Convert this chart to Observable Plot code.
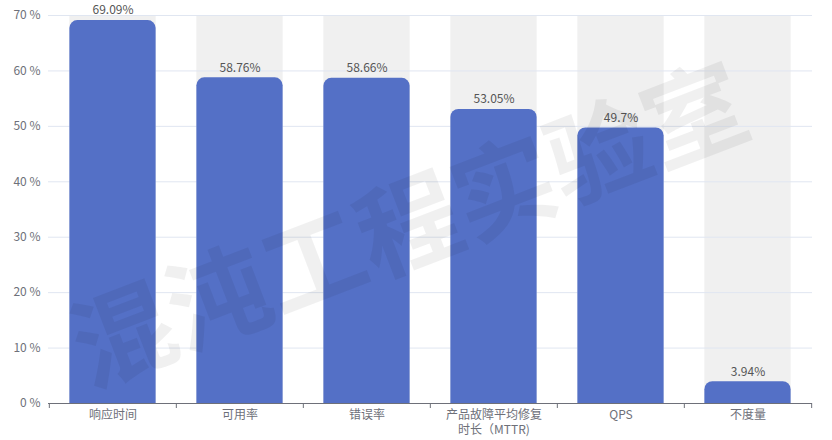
<!DOCTYPE html>
<html><head><meta charset="utf-8">
<script src="https://cdn.jsdelivr.net/npm/d3@7"></script>
<script src="https://cdn.jsdelivr.net/npm/@observablehq/plot@0.6"></script>
<style>
body{margin:0;background:#fff;}
#chart svg{display:block;}
</style>
</head><body><div id="chart"></div>
<script>
const categories = ["响应时间", "可用率", "错误率", "产品故障平均修复\n时长（MTTR)", "QPS", "不度量"];
const values = [69.09, 58.76, 58.66, 53.05, 49.7, 3.94];
const yTicks = [0, 10, 20, 30, 40, 50, 60, 70];
const watermark = ["混沌工程实验室"];

const data = categories.map((c, i) => ({cat: c, value: values[i]}));
const W = 832, H = 440, ML = 48, MR = 20, MT = 15, MB = 37;
const yMax = yTicks[yTicks.length - 1];
const bw = (W - ML - MR) / categories.length;
const inset = bw * 0.16;
const font = "'Noto Sans CJK SC', 'Noto Sans', sans-serif";

const chart = Plot.plot({
  width: W, height: H,
  marginLeft: ML, marginRight: MR, marginTop: MT, marginBottom: MB,
  style: {fontFamily: font, fontSize: "12px", background: "#fff"},
  x: {domain: categories, padding: 0, axis: null},
  y: {domain: [0, yMax], axis: null, label: null},
  marks: [
    Plot.barY(data, {x: "cat", y1: 0, y2: () => yMax, fill: "rgb(240,240,240)", insetLeft: inset, insetRight: inset}),
    Plot.gridY(yTicks, {stroke: "#e0e6f1", strokeOpacity: 1}),
    Plot.axisY(yTicks, {tickSize: 0, tickPadding: 8, label: null, tickFormat: d => d + " %", fill: "#6E7079", fontSize: 12}),
    Plot.barY(data, {x: "cat", y: "value", fill: "#5470c6", rx: 8, insetLeft: inset, insetRight: inset, insetBottom: -10, clip: true}),
    Plot.text(data, {x: "cat", y: "value", text: d => d.value + "%", dy: -10, fill: "#555", fontSize: 12}),
    Plot.ruleY([0], {stroke: "#6E7079"}),
    Plot.ruleX(categories, {x: d => d, y1: 0, y2: 0, insetTop: 5, dx: -bw / 2, stroke: "#6E7079"}),
    Plot.ruleX(categories.slice(-1), {x: d => d, y1: 0, y2: 0, insetTop: 5, dx: bw / 2, stroke: "#6E7079"}),
    Plot.text(data, {x: "cat", y: 0, text: "cat", lineAnchor: "top", dy: 5, lineHeight: 1.22, fill: "#6E7079", fontSize: 12}),
    Plot.text(watermark, {text: d => d, frameAnchor: "middle", dx: -20, dy: 20, rotate: -21, fontSize: 102, fontWeight: "bold", fill: "#000", fillOpacity: 0.06})
  ]
});
document.getElementById("chart").appendChild(chart);
</script>
</body></html>
